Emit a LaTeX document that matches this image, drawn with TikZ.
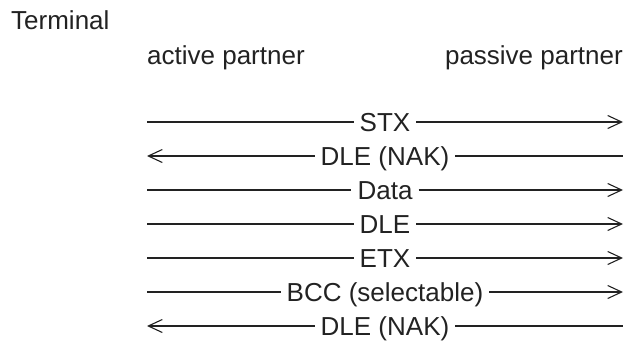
\documentclass[tikz,border=0pt]{standalone}
\usepackage{fontspec}
\setmainfont{Liberation Sans}
\usetikzlibrary{arrows.meta, positioning}
\definecolor{ink}{HTML}{222222}
\tikzstyle{title} = [inner sep=0pt, text=ink, font=\fontsize{26}{31}\selectfont]
\tikzstyle{msg} = [inner xsep=6pt, inner ysep=0pt, text height=18.6pt, text depth=0pt, text=ink, font=\fontsize{26}{31}\selectfont]
\tikzstyle{line} = [line width=1.1pt, draw=ink]
\tikzstyle{arrow} = [line width=1.1pt, draw=ink, -{Straight Barb[length=14pt, width=13pt]}]
\tikzstyle{backarrow} = [line width=1.1pt, draw=ink, {Straight Barb[length=14pt, width=13pt]}-]

\begin{document}
\begin{tikzpicture}[x=1pt, y=1pt, node distance=34pt]
		\useasboundingbox (0,0) rectangle (629,-343);
		\node (term) [title, anchor=base west] at (11,-29) {Terminal};
		\node (active) [title, anchor=base west] at (147,-64) {active partner};
		\node (passive) [title, anchor=base east] at (623,-64) {passive partner};
		\node (stx) [msg] at (385,-122) {STX};
		\node (nak1) [msg, below of=stx] {DLE (NAK)};
		\node (data) [msg, below of=nak1] {Data};
		\node (dle) [msg, below of=data] {DLE};
		\node (etx) [msg, below of=dle] {ETX};
		\node (bcc) [msg, below of=etx] {BCC (selectable)};
		\node (nak2) [msg, below of=bcc] {DLE (NAK)};
		% active -> passive
		\draw [line] (active.west |- stx) -- (stx);
		\draw [arrow] (stx) -- (passive.east |- stx);
		\draw [line] (active.west |- data) -- (data);
		\draw [arrow] (data) -- (passive.east |- data);
		\draw [line] (active.west |- dle) -- (dle);
		\draw [arrow] (dle) -- (passive.east |- dle);
		\draw [line] (active.west |- etx) -- (etx);
		\draw [arrow] (etx) -- (passive.east |- etx);
		\draw [line] (active.west |- bcc) -- (bcc);
		\draw [arrow] (bcc) -- (passive.east |- bcc);
		% passive -> active
		\draw [backarrow] (active.west |- nak1) -- (nak1);
		\draw [line] (nak1) -- (passive.east |- nak1);
		\draw [backarrow] (active.west |- nak2) -- (nak2);
		\draw [line] (nak2) -- (passive.east |- nak2);
\end{tikzpicture}
\end{document}
